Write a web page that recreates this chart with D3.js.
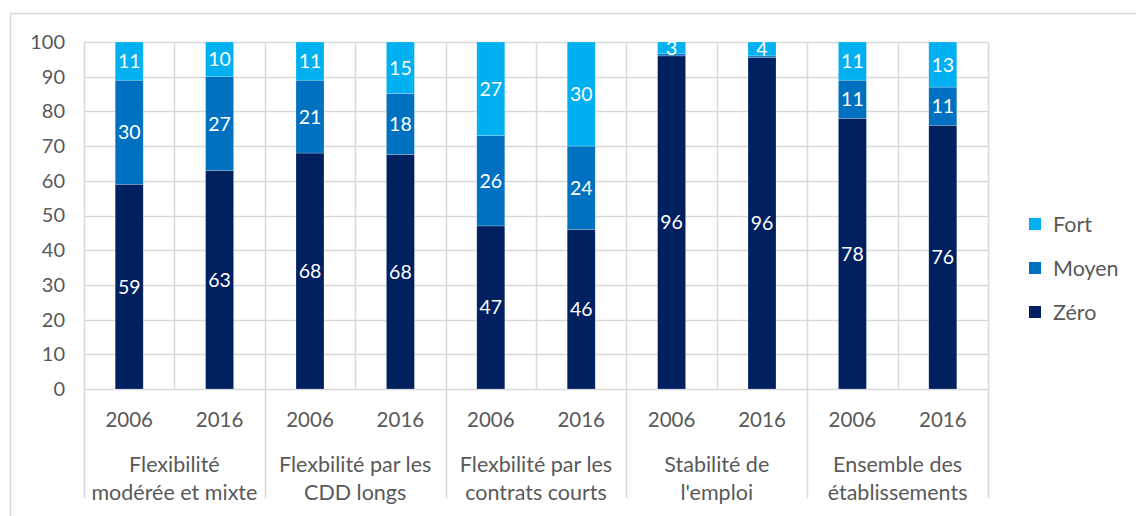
<!DOCTYPE html>
<html><head><meta charset="utf-8">
<script src="https://cdn.jsdelivr.net/npm/d3@7"></script>
<style>
html,body{margin:0;padding:0;background:#fff;}
svg{display:block;font-family:Lato, "Open Sans", sans-serif;}
</style></head>
<body>
<svg id="chart" width="1136" height="516"></svg>
<script>
const groups = ["Flexibilité\nmodérée et mixte","Flexbilité par les\nCDD longs","Flexbilité par les\ncontrats courts","Stabilité de\nl'emploi","Ensemble des\nétablissements"];
const years = ["2006","2016"];
const seriesNames = ["Zéro","Moyen","Fort"];
const zero  = [59, 63, 68, 67.6, 47, 46, 96.0, 95.6, 78, 76];
const moyen = [30, 27, 21, 17.6, 26, 24, 0.6, 0.4, 11, 11];
const fort  = [11, 10, 11, 14.8, 27, 30, 3.4, 4.0, 11, 13];
const yTicks = [0,10,20,30,40,50,60,70,80,90,100];
const colors = {"Zéro":"#002060","Moyen":"#0070C0","Fort":"#00B0F0"};

const cats = [];
groups.forEach((g,gi)=>years.forEach((y,yi)=>cats.push({key:gi+"-"+y, group:gi, year:y})));
const rows = cats.map((c,i)=>({key:c.key, "Zéro":zero[i], "Moyen":moyen[i], "Fort":fort[i]}));

const svg = d3.select("#chart");
const x = d3.scaleBand().domain(cats.map(c=>c.key)).range([84,988]).paddingInner(0).paddingOuter(0);
const y = d3.scaleLinear().domain([0,100]).range([389,42]);
const grid = "#d9d9d9";
const textCol = "#595959";

// outer frame
svg.append("rect").attr("x",10.5).attr("y",13.5).attr("width",1200).attr("height",600)
  .attr("fill","none").attr("stroke",grid).attr("stroke-width",1.5);

// horizontal gridlines
svg.append("g").selectAll("line").data(yTicks).join("line")
  .attr("x1",84).attr("x2",988).attr("y1",d=>Math.round(y(d))+0.5).attr("y2",d=>Math.round(y(d))+0.5)
  .attr("stroke",grid).attr("stroke-width",1.5);
// vertical gridlines at category boundaries (plot)
const bounds = cats.map(c=>x(c.key)).concat([988]);
svg.append("g").selectAll("line").data(bounds).join("line")
  .attr("x1",d=>Math.round(d)+0.5).attr("x2",d=>Math.round(d)+0.5).attr("y1",y(100)).attr("y2",y(0))
  .attr("stroke",grid).attr("stroke-width",1.5);
// group separators below axis
const gBounds = groups.map((g,gi)=>x(gi+"-2006")).concat([988]);
svg.append("g").selectAll("line").data(gBounds).join("line")
  .attr("x1",d=>Math.round(d)+0.5).attr("x2",d=>Math.round(d)+0.5).attr("y1",y(0)).attr("y2",498)
  .attr("stroke",grid).attr("stroke-width",1.5);

// y axis labels
const yAxis = d3.axisLeft(y).tickValues(yTicks).tickSize(0).tickPadding(19);
const ya = svg.append("g").attr("transform","translate(84,0)").call(yAxis);
ya.select(".domain").remove();
ya.selectAll("text").attr("fill",textCol).attr("font-size","20px").attr("font-family","Lato, sans-serif");

// x axis year labels
const xAxis = d3.axisBottom(x).tickSize(0).tickPadding(23).tickFormat(k=>k.split("-")[1]);
const xa = svg.append("g").attr("transform","translate(0,"+y(0)+")").call(xAxis);
xa.select(".domain").remove();
xa.selectAll("text").attr("fill",textCol).attr("font-size","20.5px").attr("font-family","Lato, sans-serif");

// group labels
const gLab = svg.append("g").selectAll("text").data(groups).join("text")
  .attr("x",(g,gi)=>(x(gi+"-2006")+x(gi+"-2016")+x.bandwidth())/2)
  .attr("text-anchor","middle").attr("fill",textCol).attr("font-size","21.5px");
gLab.each(function(g){
  const t = d3.select(this);
  g.split("\n").forEach((line,li)=>{
    t.append("tspan").attr("x",t.attr("x")).attr("y",472+li*28).text(line);
  });
});

// stacked bars
const stack = d3.stack().keys(seriesNames)(rows);
const bw = 28;
const off = (x.bandwidth()-bw)/2;
const layers = svg.append("g").selectAll("g").data(stack).join("g").attr("fill",d=>colors[d.key]);
layers.selectAll("rect").data(d=>d).join("rect")
  .attr("x",d=>x(d.data.key)+off).attr("width",bw)
  .attr("y",d=>y(Math.min(d[1],100))).attr("height",d=>y(d[0])-y(Math.min(d[1],100)))
  .attr("stroke","rgba(255,255,255,0.35)").attr("stroke-width",0.6);

// labels
const labG = svg.append("g");
stack.forEach(layer=>{
  labG.selectAll(null).data(layer.filter(d=>d[1]-d[0]>=2)).join("text")
    .attr("x",d=>x(d.data.key)+x.bandwidth()/2)
    .attr("y",d=>(y(d[0])+y(Math.min(d[1],100)))/2)
    .attr("dy","0.36em")
    .attr("text-anchor","middle").attr("fill","#fff").attr("font-size","19.5px")
    .text(d=>Math.round(d[1]-d[0]));
});

// legend
const legendItems = ["Fort","Moyen","Zéro"];
const lg = svg.append("g").selectAll("g").data(legendItems).join("g")
  .attr("transform",(d,i)=>"translate(1029,"+(224+i*44)+")");
lg.append("rect").attr("x",0).attr("y",-6).attr("width",12).attr("height",12).attr("fill",d=>colors[d]);
lg.append("text").attr("x",24).attr("y",0).attr("dy","0.36em").attr("fill",textCol).attr("font-size","21.5px").text(d=>d);
</script>
</body></html>
